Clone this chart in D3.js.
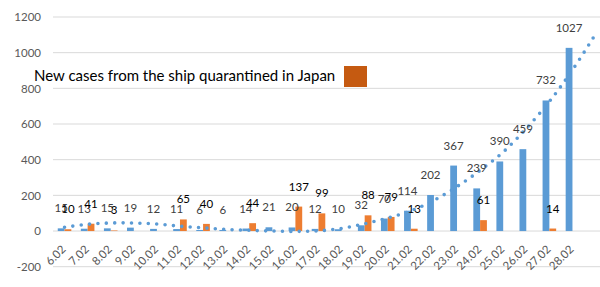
<!DOCTYPE html>
<html>
<head>
<meta charset="utf-8">
<script src="https://cdn.jsdelivr.net/npm/d3@7"></script>
<style>
  body { margin: 0; background: #fff; }
  text { font-family: Lato, "Liberation Sans", sans-serif; }
</style>
</head>
<body>
<div id="chart"></div>
<script>
var width = 600, height = 287;

// Data
var dates = ["6.02","7.02","8.02","9.02","10.02","11.02","12.02","13.02","14.02","15.02","16.02","17.02",
             "18.02","19.02","20.02","21.02","22.02","23.02","24.02","25.02","26.02","27.02","28.02"];
var otherCases = [15,13,15,19,12,11,6,6,14,21,20,12,10,32,70,114,202,367,239,390,459,732,1027];
var shipCases = [10,41,3,null,null,65,40,null,44,null,137,99,null,88,79,13,null,null,61,null,null,14,null];
// dotted trend line of the blue series, one value per date plus one step forward
var trendValues = [21,38,45,45,39,27,18,9,4,0,-2,1,15,41,73,113,172,249,340,443,575,726,903,1104];
var yTicks = [-200,0,200,400,600,800,1000,1200];
var legendLabel = "New cases from the ship quarantined in Japan";

var svg = d3.select("#chart")
    .append("svg")
    .attr("width", width)
    .attr("height", height);

// Scales
var x = d3.scaleBand()
    .domain(dates)
    .range([53, 584])
    .padding(0);

var x1 = d3.scaleBand()
    .domain(["other", "ship"])
    .range([0, x.bandwidth()])
    .paddingInner(0)
    .paddingOuter(0.7);

var y = d3.scaleLinear()
    .domain([-200, 1200])
    .range([266.7, 17]);

// Gridlines
svg.append("g")
    .selectAll("line")
    .data(yTicks)
    .enter()
    .append("line")
    .attr("x1", 53)
    .attr("x2", 600)
    .attr("y1", function(d){ return y(d) })
    .attr("y2", function(d){ return y(d) })
    .attr("stroke", "#d9d9d9")
    .attr("stroke-width", 1);

// Y axis labels
var yAxis = svg.append("g")
    .attr("transform", "translate(45,0)")
    .call(d3.axisLeft(y).tickValues(yTicks).tickSize(0).tickPadding(4)
        .tickFormat(function(d){ return String(d) }));
yAxis.select(".domain").remove();
yAxis.selectAll("text")
    .attr("fill", "#595959")
    .style("font-size", "11.5px")
    .style("font-family", "Lato, 'Liberation Sans', sans-serif");

// X axis labels, rotated
svg.append("g")
    .selectAll("text")
    .data(dates)
    .enter()
    .append("text")
    .attr("transform", function(d){
        var cx = x(d) + x.bandwidth() / 2 + 2;
        return "translate(" + cx + ",250) rotate(-45)";
    })
    .attr("text-anchor", "end")
    .attr("fill", "#595959")
    .style("font-size", "11.5px")
    .text(function(d){ return d });

// Bars
var blueBars = dates.map(function(d, i){ return {date: d, v: otherCases[i]} });
var orangeBars = dates.map(function(d, i){ return {date: d, v: shipCases[i]} })
    .filter(function(d){ return d.v != null });

svg.append("g")
    .selectAll("rect")
    .data(blueBars)
    .enter()
    .append("rect")
    .attr("x", function(d){ return x(d.date) + x1("other") })
    .attr("width", x1.bandwidth())
    .attr("y", function(d){ return y(d.v) })
    .attr("height", function(d){ return y(0) - y(d.v) })
    .attr("fill", "#5b9bd5");

svg.append("g")
    .selectAll("rect")
    .data(orangeBars)
    .enter()
    .append("rect")
    .attr("x", function(d){ return x(d.date) + x1("ship") })
    .attr("width", x1.bandwidth())
    .attr("y", function(d){ return y(d.v) })
    .attr("height", function(d){ return y(0) - y(d.v) })
    .attr("fill", "#ed7d31");

// Trend line (dotted)
var x0 = x(dates[0]) + x.bandwidth() / 2;
var line = d3.line()
    .x(function(d, i){ return x0 + i * x.step() })
    .y(function(d){ return y(d) })
    .curve(d3.curveCatmullRom);

svg.append("path")
    .datum(trendValues)
    .attr("d", line)
    .attr("fill", "none")
    .attr("stroke", "#5b9bd5")
    .attr("stroke-width", 3.6)
    .attr("stroke-linecap", "round")
    .attr("stroke-dasharray", "0 8.4");

// Data labels
svg.append("g")
    .selectAll("text")
    .data(blueBars)
    .enter()
    .append("text")
    .attr("x", function(d){ return x(d.date) + x1("other") + x1.bandwidth() / 2 })
    .attr("y", function(d){ return y(d.v) - 16 })
    .attr("text-anchor", "middle")
    .attr("fill", "#404040")
    .style("font-size", "11.5px")
    .text(function(d){ return d.v });

svg.append("g")
    .selectAll("text")
    .data(orangeBars)
    .enter()
    .append("text")
    .attr("x", function(d){ return x(d.date) + x1("ship") + x1.bandwidth() / 2 })
    .attr("y", function(d){ return y(d.v) - 16 })
    .attr("text-anchor", "middle")
    .attr("fill", "#000")
    .style("font-size", "11.5px")
    .text(function(d){ return d.v });

// Legend
svg.append("text")
    .attr("x", 34)
    .attr("y", 81)
    .attr("fill", "#000")
    .style("font-size", "15px")
    .text(legendLabel);

svg.append("rect")
    .attr("x", 344)
    .attr("y", 66)
    .attr("width", 23)
    .attr("height", 21)
    .attr("fill", "#c55a11");
</script>
</body>
</html>
